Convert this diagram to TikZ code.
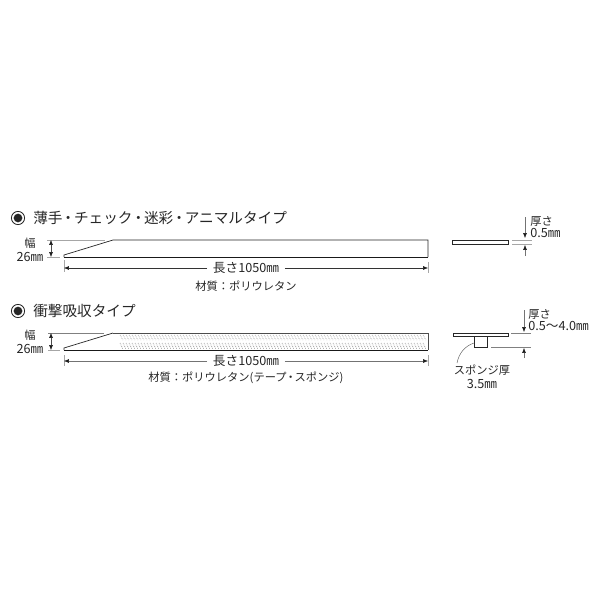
\documentclass[tikz,border=0pt]{standalone}
\usepackage{fontspec}
\setmainfont{Noto Sans CJK JP}
\usetikzlibrary{arrows.meta}
\newcommand{\tightdot}{\kern-1.1pt・\kern-1.1pt}
\tikzset{
  outline/.style={draw=black!85, line width=0.5pt},
  heavy/.style={draw=black!90, line width=0.7pt},
  guide/.style={draw=black!35, line width=0.35pt},
  hatchline/.style={draw=black!60, line width=0.35pt, dash pattern=on 0.5pt off 0.8pt},
  dimarrow/.style={draw=black!55, line width=0.35pt, -{Latex[length=3.5pt,width=2.8pt,black!90]}},
  bothways/.style={draw=black!70, line width=0.35pt, {Latex[length=3.5pt,width=2.8pt,black!90]}-{Latex[length=3.5pt,width=2.8pt,black!90]}},
  title/.style={font=\fontsize{10.4pt}{11pt}\selectfont, anchor=west, inner sep=0pt, text=black!85},
  small/.style={font=\fontsize{8pt}{9pt}\selectfont, inner sep=0pt, text=black!85},
  big/.style={font=\fontsize{9pt}{10pt}\selectfont, inner sep=0pt, text=black!85},
  dimlabel/.style={big, fill=white, inner xsep=4pt},
  markring/.style={draw=black!85, circle, line width=0.6pt, minimum size=9.4pt, inner sep=0pt}
}
\begin{document}
\begin{tikzpicture}[x=0.025cm, y=-0.025cm]
  % page
  \useasboundingbox (0, 0) rectangle (600, 600);
  % first type: heading
  \node [markring] (markA) at (18, 218) {};
  \fill [black!85] (markA.center) circle (3.1pt);
  \node [title] (titleA) at (33, 217.5) {薄手\tightdot チェック\tightdot 迷彩\tightdot アニマルタイプ};
  % first type: strip
  \draw [outline] (64, 257) -- (64, 255) -- (113, 240) -- (428, 240) -- (428, 257);
  \draw [heavy] (64, 257) -- (428, 257);
  % first type: width
  \draw [guide] (47, 240) -- (105, 240);
  \draw [guide] (47, 257) -- (60, 257);
  \node [small] (wordA) at (30, 243) {幅};
  \node [big] (widthA) at (30, 257) {26㎜};
  \coordinate (wtopA) at (51, 240);
  \coordinate (wbotA) at (51, 257);
  \draw [bothways] (wtopA) -- (wbotA);
  % first type: length
  \draw [guide] (64, 260) -- (64, 272);
  \draw [guide] (428, 262) -- (428, 273);
  \coordinate (lleftA) at (64, 268);
  \coordinate (lrightA) at (428, 268);
  \node [dimlabel] (lengthA) at (246, 268) {長さ1050㎜};
  \draw [dimarrow, draw=black!80] (lengthA) -- (lleftA);
  \draw [dimarrow, draw=black!80] (lengthA) -- (lrightA);
  \node [small] (matA) at (246, 286) {材質：ポリウレタン};
  % first type: section
  \draw [outline] (452, 240) rectangle (508, 244);
  \draw [guide] (512, 240) -- (532, 240);
  \draw [guide] (512, 244) -- (532, 244);
  \coordinate (tupA) at (525, 217);
  \coordinate (tdownA) at (525, 256);
  \coordinate (theadA) at (525, 238);
  \coordinate (tfootA) at (525, 245);
  \draw [dimarrow] (tupA) -- (theadA);
  \draw [dimarrow] (tdownA) -- (tfootA);
  \node [small, anchor=west] (thickA) at (530, 221) {厚さ};
  \node [big, anchor=west] (thickvalA) at (530, 233) {0.5㎜};
  % second type: heading
  \node [markring] (markB) at (18, 311) {};
  \fill [black!85] (markB.center) circle (3.1pt);
  \node [title] (titleB) at (33, 310.5) {衝撃吸収タイプ};
  % second type: strip, dotted hatching in two bands
  \foreach \x in {120, 123, ..., 423} {
    \draw [hatchline] (\x, 335) -- (\x + 3, 340);
    \draw [hatchline] (\x, 343) -- (\x + 3, 349);
  }
  \draw [outline, draw=black!70, line width=0.65pt] (113, 333) -- (428, 333) -- (428, 350);
  \draw [outline] (64, 350) -- (64, 348) -- (113, 333);
  \draw [heavy] (64, 350) -- (428, 350);
  % second type: width
  \draw [guide, draw=black!50] (48, 333) -- (104, 333);
  \draw [guide] (48, 350) -- (60, 350);
  \node [small] (wordB) at (30, 335) {幅};
  \node [big] (widthB) at (30, 349) {26㎜};
  \coordinate (wtopB) at (51, 333);
  \coordinate (wbotB) at (51, 350);
  \draw [bothways] (wtopB) -- (wbotB);
  % second type: length
  \draw [guide] (64, 355) -- (64, 366);
  \draw [guide] (428, 355) -- (428, 366);
  \coordinate (lleftB) at (64, 361);
  \coordinate (lrightB) at (428, 361);
  \node [dimlabel] (lengthB) at (246, 361) {長さ1050㎜};
  \draw [dimarrow] (lengthB) -- (lleftB);
  \draw [dimarrow] (lengthB) -- (lrightB);
  \node [small] (matB) at (246, 378) {材質：ポリウレタン(テープ\tightdot スポンジ)};
  % second type: section
  \draw [outline] (453, 333) rectangle (508, 336);
  \draw [outline, line width=0.4pt] (474, 336) rectangle (487, 347);
  \draw [guide, draw=black!50] (511, 333) -- (531, 333);
  \draw [guide, draw=black!50] (491, 347) -- (531, 347);
  \coordinate (tupB) at (524, 310);
  \coordinate (tdownB) at (524, 358);
  \coordinate (theadB) at (524, 332);
  \coordinate (tfootB) at (524, 348);
  \draw [dimarrow] (tupB) -- (theadB);
  \draw [dimarrow] (tdownB) -- (tfootB);
  \node [small, anchor=west] (thickB) at (528, 314) {厚さ};
  \node [big, anchor=west] (thickvalB) at (528, 326) {0.5〜4.0㎜};
  % sponge note
  \node [small] (spongeB) at (482, 370) {スポンジ厚};
  \node [big] (spongevalB) at (482, 384) {3.5㎜};
  \coordinate (spongeside) at (474, 343);
  \coordinate (spongeend) at (457, 363);
  \draw [draw=black!60, line width=0.35pt] (spongeside) .. controls (465, 346) and (459, 353) .. (spongeend);
\end{tikzpicture}
\end{document}
